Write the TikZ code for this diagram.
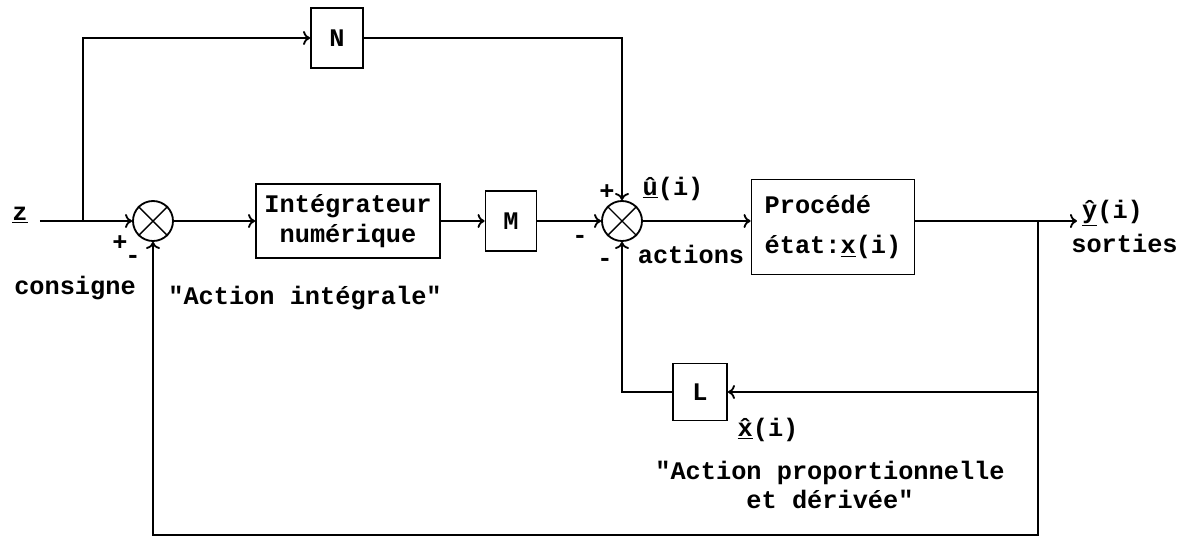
\documentclass[tikz,border=0pt]{standalone}
\usepackage{fontspec}
\setmonofont{Liberation Mono}
\usepackage{tikz}
\usetikzlibrary{arrows.meta, positioning}

\begin{document}
\begin{tikzpicture}[node distance=2cm,line width=1.3pt,
  >={To[length=5pt,width=10pt]},
  font=\ttfamily\bfseries\fontsize{18}{21}\selectfont]
 \tikzstyle{blockbox}=[rectangle,draw=black,minimum width=1.3cm,
   minimum height=1.5cm,text centered]
 \tikzstyle{sumnode}=[circle,draw=black,minimum size=1cm,inner sep=0pt]
 \tikzstyle{sig}=[inner sep=1pt]
 \useasboundingbox (-3.825,5.525) rectangle (25.875,-8.0);
 \node (s1) [sumnode] at (0,0) {};
 \node (int) [blockbox,right of=s1,xshift=2.875cm,minimum width=4.6cm,
   minimum height=1.85cm,align=center] {Intégrateur\\numérique};
 \node (m) [blockbox,right of=int,xshift=2.075cm,minimum width=1.275cm] {M};
 \node (s2) [sumnode,right of=m,xshift=0.775cm] {};
 \node (proc) [blockbox,right of=s2,xshift=3.275cm,yshift=-0.15cm,
   minimum width=4.075cm,minimum height=2.375cm,align=left]
   {Procédé\\[8pt]état:\underline{x}(i)};
 \node (n) [blockbox,above of=int,xshift=-0.275cm,yshift=2.575cm] {N};
 \node (l) [blockbox,below of=s2,xshift=1.95cm,yshift=-2.275cm,
   minimum width=1.35cm,minimum height=1.425cm] {L};
 \coordinate (zin) at (-2.825,0);
 \coordinate (split) at (-1.75,0);
 \coordinate (br) at (22.125,0);
 \coordinate (yend) at (23.1,0);
 \coordinate (bot) at (22.125,-7.85);
 % croix des sommateurs
 \draw[line width=1pt] (s1.north east) -- (s1.south west)
   (s1.north west) -- (s1.south east);
 \draw[line width=1pt] (s2.north east) -- (s2.south west)
   (s2.north west) -- (s2.south east);
 % chaine directe
 \draw[->] (zin) -- (s1);
 \draw[->] (s1) -- (int);
 \draw[->] (int) -- (m.west |- int);
 \draw[->] (m) -- (s2);
 \draw[->] (s2) -- (s2 -| proc.west);
 \draw[->] (proc.east |- s2) -- (yend);
 \draw[->] (split) |- (n);
 \draw[->] (n) -| (s2);
 % retours
 \draw[->] (br) |- (l);
 \draw[->] (l) -| (s2);
 \draw[->] (br) -- (bot) -| (s1);
 % textes
 \node (z) [sig] at (-3.325,0.15) {\underline{z}};
 \node (cons) [sig] at (-1.95,-1.675) {consigne};
 \node (p1) [sig] at (-0.825,-0.55) {+};
 \node (m1) [sig] at (-0.5,-0.95) {-};
 \node (p2) [sig] at ([shift={(-0.375,0.725)}]s2) {+};
 \node (m2) [sig] at ([shift={(-1.05,-0.45)}]s2) {-};
 \node (m3) [sig] at ([shift={(-0.425,-1.025)}]s2) {-};
 \node (u) [sig] at ([shift={(1.275,0.8)}]s2) {\underline{\^{u}}(i)};
 \node (act) [sig] at ([shift={(1.725,-0.825)}]s2) {actions};
 \node (y) [sig,right=2pt of yend,yshift=0.2cm] {\underline{\^{y}}(i)};
 \node (sort) [sig,below of=y,node distance=0.75cm,xshift=0.3cm] {sorties};
 \node (x) [sig] at ([shift={(1.7,-0.95)}]l) {\underline{\^{x}}(i)};
 \node (ai) [sig] at (3.8,-1.925) {"Action intégrale"};
 \node (apd) [sig,align=center] at (16.925,-6.6)
   {"Action proportionnelle\\et dérivée"};
\end{tikzpicture}
\end{document}
